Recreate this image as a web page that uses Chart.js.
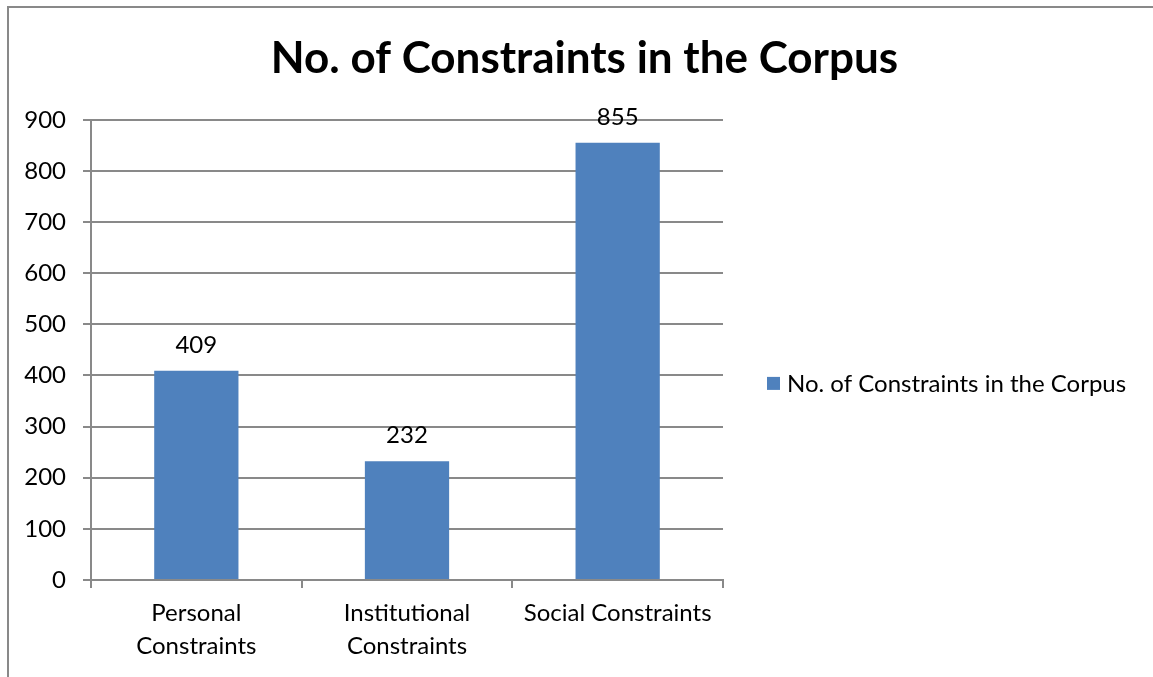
<!DOCTYPE html>
<html>
<head>
<meta charset="utf-8">
<script src="https://cdn.jsdelivr.net/npm/chart.js@4/dist/chart.umd.min.js"></script>
<style>
  html, body { margin: 0; padding: 0; background: #fff; }
  canvas { display: block; }
</style>
</head>
<body>
<canvas id="myChart" width="1153" height="677"></canvas>
<script>
  const categories = [['Personal', 'Constraints'], ['Institutional', 'Constraints'], 'Social Constraints'];
  const counts = [409, 232, 855];
  const seriesName = 'No. of Constraints in the Corpus';
  const yTicks = [0, 100, 200, 300, 400, 500, 600, 700, 800, 900];

  const FONT = 'Lato, "Open Sans", sans-serif';
  const LINE = '#898989';
  const BAR = '#4F81BD';

  // outer frame of the chart object
  const framePlugin = {
    id: 'frame',
    beforeDraw(chart) {
      const ctx = chart.ctx;
      ctx.save();
      ctx.fillStyle = '#fff';
      ctx.fillRect(0, 0, chart.width, chart.height);
      ctx.strokeStyle = LINE;
      ctx.lineWidth = 2;
      ctx.beginPath();
      ctx.moveTo(8, chart.height + 2);
      ctx.lineTo(8, 7);
      ctx.lineTo(chart.width + 2, 7);
      ctx.stroke();
      ctx.restore();
    }
  };

  // value labels above the bars
  const valueLabels = {
    id: 'valueLabels',
    afterDatasetsDraw(chart) {
      const ctx = chart.ctx;
      ctx.save();
      ctx.font = '24px ' + FONT;
      ctx.fillStyle = '#000';
      ctx.textAlign = 'center';
      ctx.textBaseline = 'middle';
      chart.getDatasetMeta(0).data.forEach((bar, i) => {
        ctx.fillText(String(counts[i]), bar.x, bar.y - 26);
      });
      ctx.restore();
    }
  };

  // legend entry in the empty column right of the plot
  const sideLegend = {
    id: 'sideLegend',
    afterDraw(chart) {
      const ctx = chart.ctx;
      const area = chart.chartArea;
      const ds = chart.data.datasets[0];
      const x = area.right + 44;
      const y = (area.top + area.bottom) / 2 + 34;
      ctx.save();
      ctx.fillStyle = ds.backgroundColor;
      ctx.fillRect(x, y - 7, 13, 13);
      ctx.fillStyle = '#000';
      ctx.font = '24px ' + FONT;
      ctx.textBaseline = 'middle';
      ctx.fillText(ds.label, x + 20, y);
      ctx.restore();
    }
  };

  new Chart(document.getElementById('myChart').getContext('2d'), {
    type: 'bar',
    data: {
      labels: categories,
      datasets: [{
        label: seriesName,
        data: counts,
        backgroundColor: BAR,
        borderWidth: 0,
        barPercentage: 0.4,
        categoryPercentage: 1.0
      }]
    },
    options: {
      responsive: false,
      animation: false,
      layout: { padding: { left: 16, right: 0, top: 0, bottom: 0 } },
      plugins: {
        title: {
          display: true,
          text: seriesName,
          color: '#000',
          font: { family: FONT, size: 44, weight: 'bold', lineHeight: 1.2 },
          padding: { top: 32, bottom: 35 }
        },
        legend: { display: false },
        tooltip: { enabled: false }
      },
      scales: {
        x: {
          grid: { drawOnChartArea: false, color: LINE, tickLength: 8, offset: true, lineWidth: 2 },
          border: { color: LINE, width: 2 },
          ticks: { color: '#000', font: { family: FONT, size: 24, lineHeight: 1.38 }, padding: 9, maxRotation: 0 },
          afterFit(scale) { scale.height = 97; }
        },
        y: {
          min: 0,
          max: 900,
          afterBuildTicks(scale) { scale.ticks = yTicks.map(v => ({ value: v })); },
          grid: { color: LINE, lineWidth: 2, tickLength: 8 },
          border: { color: LINE, width: 2 },
          ticks: { color: '#000', font: { family: FONT, size: 24 }, padding: 17 },
          afterFit(scale) { scale.width = 75; }
        },
        // empty column that holds the legend
        side: {
          type: 'linear',
          position: 'right',
          grid: { display: false },
          border: { display: false },
          ticks: { display: false },
          afterFit(scale) { scale.width = 430; }
        }
      }
    },
    plugins: [framePlugin, valueLabels, sideLegend]
  });
</script>
</body>
</html>
